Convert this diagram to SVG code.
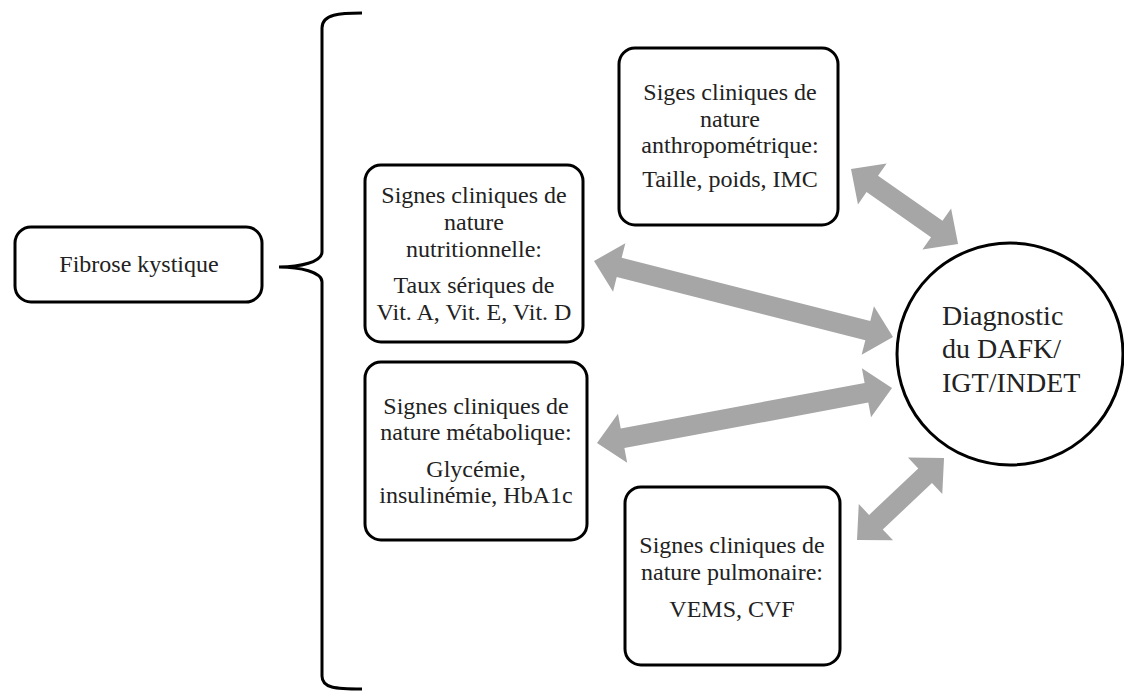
<svg xmlns="http://www.w3.org/2000/svg" width="1124" height="692" viewBox="0 0 1124 692">
<style>
.box{fill:#fff;stroke:#000;stroke-width:3}
.t{font-family:"Liberation Serif","Times New Roman",serif;font-size:24px;fill:#222;text-anchor:middle}
.c{font-family:"Liberation Serif","Times New Roman",serif;font-size:28px;fill:#222}
.arr{fill:#a6a6a6}
.br{fill:none;stroke:#000;stroke-width:3}
</style>
<rect width="1124" height="692" fill="#fff"/>
<g id="fibrose">
<rect class="box" x="15" y="227" width="247" height="75" rx="16"/>
<text class="t" x="139" y="272">Fibrose kystique</text>
</g>
<g id="brace">
<path class="br" d="M362,13 C340,13 322,14 322,28 L322,252 C322,262 300,267 279,267 C300,267 322,272 322,282 L322,676 C322,688 335,689 362,689"/>
</g>
<g id="anthro">
<rect class="box" x="619" y="48" width="219" height="177" rx="16"/>
<text class="t" x="730" y="100">Siges cliniques de</text>
<text class="t" x="730" y="127">nature</text>
<text class="t" x="730" y="153">anthropométrique:</text>
<text class="t" x="730" y="187">Taille, poids, IMC</text>
</g>
<g id="nutri">
<rect class="box" x="365" y="165" width="218" height="177" rx="16"/>
<text class="t" x="474" y="203">Signes cliniques de</text>
<text class="t" x="474" y="230">nature</text>
<text class="t" x="474" y="257">nutritionnelle:</text>
<text class="t" x="474" y="293">Taux sériques de</text>
<text class="t" x="474" y="320">Vit. A, Vit. E, Vit. D</text>
</g>
<g id="metab">
<rect class="box" x="365" y="362" width="222" height="178" rx="16"/>
<text class="t" x="476" y="414">Signes cliniques de</text>
<text class="t" x="476" y="440">nature métabolique:</text>
<text class="t" x="476" y="477">Glycémie,</text>
<text class="t" x="476" y="503">insulinémie, HbA1c</text>
</g>
<g id="pulm">
<rect class="box" x="625" y="487" width="215" height="178" rx="16"/>
<text class="t" x="732" y="553">Signes cliniques de</text>
<text class="t" x="732" y="580">nature pulmonaire:</text>
<text class="t" x="732" y="617">VEMS, CVF</text>
</g>
<g id="diagnostic">
<ellipse cx="1010" cy="354" rx="113" ry="111" fill="#fff" stroke="#000" stroke-width="3"/>
<text class="c" x="942" y="325">Diagnostic</text>
<text class="c" x="942" y="358">du DAFK/</text>
<text class="c" x="942" y="392">IGT/INDET</text>
</g>
<g id="connectors">
<polygon class="arr" transform="translate(851,169) rotate(35)" points="0,0 26,-25 26,-10 104.7,-10 104.7,-25 130.7,0 104.7,25 104.7,10 26,10 26,25"/>
<polygon class="arr" transform="translate(594,261) rotate(14.26)" points="0,0 26,-25 26,-10 282.5,-10 282.5,-25 308.5,0 282.5,25 282.5,10 26,10 26,25"/>
<polygon class="arr" transform="translate(597,443) rotate(-10.56)" points="0,0 26,-25 26,-10 274.1,-10 274.1,-25 300.1,0 274.1,25 274.1,10 26,10 26,25"/>
<polygon class="arr" transform="translate(857,540) rotate(-43.3)" points="0,0 26,-25 26,-10 93.6,-10 93.6,-25 119.6,0 93.6,25 93.6,10 26,10 26,25"/>
</g>
</svg>
